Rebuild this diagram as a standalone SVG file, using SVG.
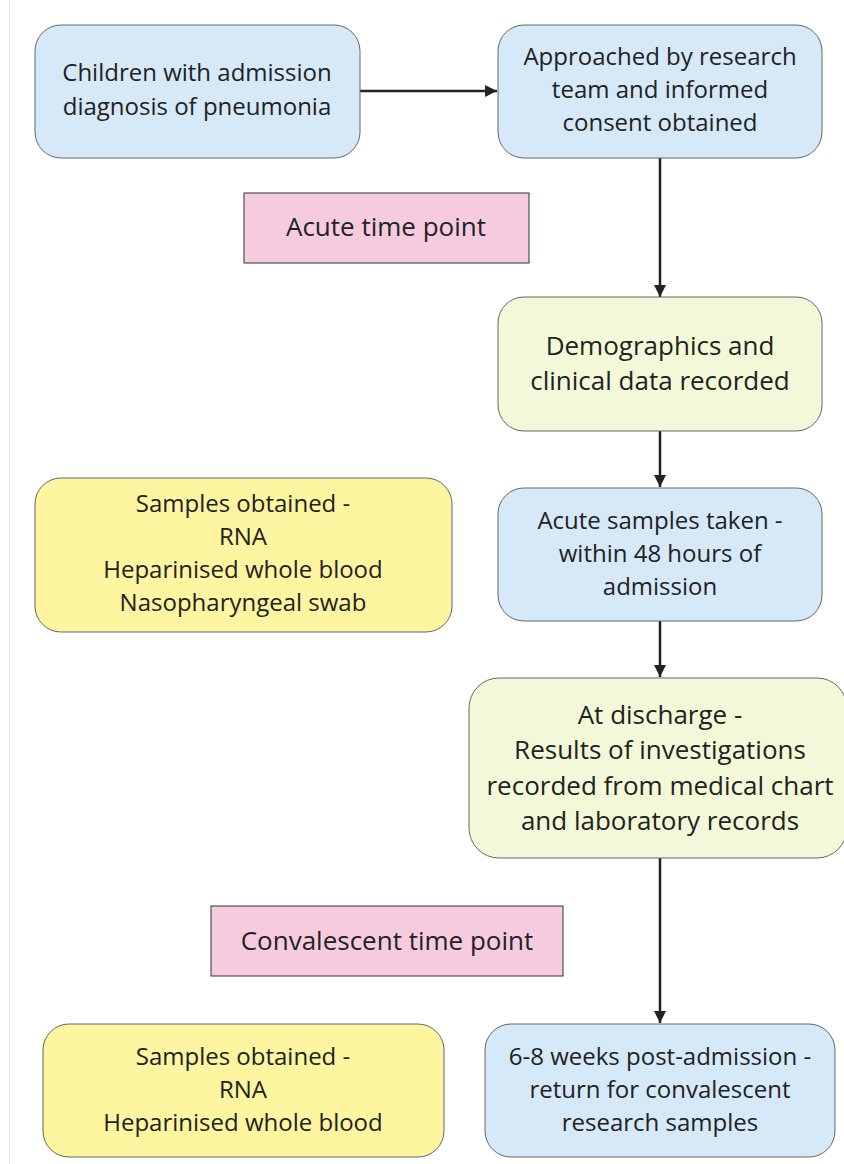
<svg xmlns="http://www.w3.org/2000/svg" width="844" height="1164" viewBox="0 0 844 1164">
<defs>
<marker id="ah" viewBox="0 0 10 10" refX="10" refY="5" markerWidth="12" markerHeight="12" markerUnits="userSpaceOnUse" orient="auto">
<path d="M0,0 L10,5 L0,10 z" fill="#222"/>
</marker>
<style>
.box{stroke:#666;stroke-width:1}
.blue{fill:#d6e9f9}
.green{fill:#f3f9d8}
.yellow{fill:#fdf59f}
.pink{fill:#f6cbe0;stroke:#333}
text{font-family:"Open Sans","Noto Sans",sans-serif;fill:#222;text-anchor:middle}
.s22{font-size:24px}
.s24{font-size:26px}
.conn{stroke:#222;stroke-width:2.5;fill:none;marker-end:url(#ah)}
</style>
</defs>
<rect width="844" height="1164" fill="#fff"/>
<line x1="9.5" y1="0" x2="9.5" y2="1164" stroke="#e6e6e6" stroke-width="1"/>
<g id="connectors">
<line class="conn" x1="360" y1="91" x2="497" y2="91"/>
<line class="conn" x1="660" y1="158" x2="660" y2="297"/>
<line class="conn" x1="660" y1="431" x2="660" y2="487"/>
<line class="conn" x1="660" y1="621" x2="660" y2="677"/>
<line class="conn" x1="660" y1="858" x2="660" y2="1023"/>
</g>
<g id="n1">
<rect class="box blue" x="35" y="25" width="325" height="133" rx="26"/>
<text class="s22" x="197" y="81">Children with admission</text>
<text class="s22" x="197" y="115">diagnosis of pneumonia</text>
</g>
<g id="n2">
<rect class="box blue" x="498" y="25" width="324" height="133" rx="26"/>
<text class="s22" x="660" y="65">Approached by research</text>
<text class="s22" x="660" y="98">team and informed</text>
<text class="s22" x="660" y="131">consent obtained</text>
</g>
<g id="acute">
<rect class="pink" x="244" y="193" width="285" height="70"/>
<text class="s24" x="386" y="236">Acute time point</text>
</g>
<g id="n3">
<rect class="box green" x="498" y="297" width="324" height="134" rx="26"/>
<text class="s24" x="660" y="355">Demographics and</text>
<text class="s24" x="660" y="390">clinical data recorded</text>
</g>
<g id="samples1">
<rect class="box yellow" x="35" y="478" width="417" height="154" rx="26"/>
<text class="s22" x="243" y="512">Samples obtained -</text>
<text class="s22" x="243" y="545">RNA</text>
<text class="s22" x="243" y="578">Heparinised whole blood</text>
<text class="s22" x="243" y="611">Nasopharyngeal swab</text>
</g>
<g id="n4">
<rect class="box blue" x="498" y="488" width="324" height="133" rx="26"/>
<text class="s22" x="660" y="529">Acute samples taken -</text>
<text class="s22" x="660" y="562">within 48 hours of</text>
<text class="s22" x="660" y="595">admission</text>
</g>
<g id="n5">
<rect class="box green" x="469" y="678" width="378" height="180" rx="30"/>
<text class="s24" x="660" y="724">At discharge -</text>
<text class="s24" x="660" y="759">Results of investigations</text>
<text class="s24" x="660" y="795">recorded from medical chart</text>
<text class="s24" x="660" y="830">and laboratory records</text>
</g>
<g id="conv">
<rect class="pink" x="211" y="906" width="352" height="70"/>
<text class="s24" x="387" y="950">Convalescent time point</text>
</g>
<g id="samples2">
<rect class="box yellow" x="43" y="1024" width="401" height="133" rx="26"/>
<text class="s22" x="243" y="1065">Samples obtained -</text>
<text class="s22" x="243" y="1098">RNA</text>
<text class="s22" x="243" y="1131">Heparinised whole blood</text>
</g>
<g id="n6">
<rect class="box blue" x="485" y="1024" width="350" height="133" rx="26"/>
<text class="s22" x="660" y="1065">6-8 weeks post-admission -</text>
<text class="s22" x="660" y="1098">return for convalescent</text>
<text class="s22" x="660" y="1131">research samples</text>
</g>
</svg>
